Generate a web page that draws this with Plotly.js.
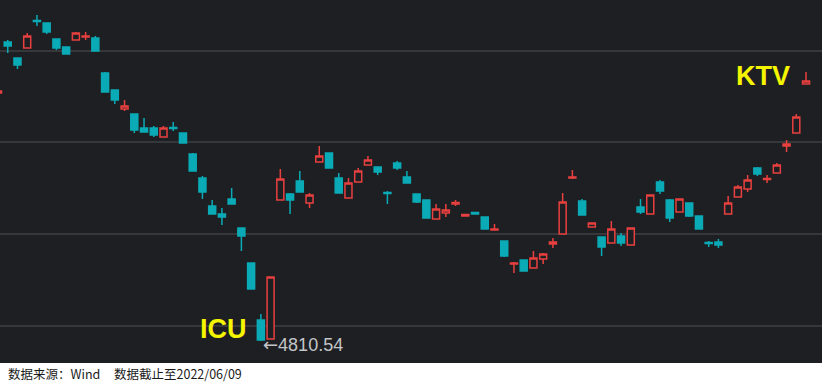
<!DOCTYPE html>
<html><head><meta charset="utf-8">
<script src="https://cdn.plot.ly/plotly-3.0.1.min.js"></script>
<style>html,body{margin:0;padding:0;background:#fff;}#chart{width:822px;height:383px;}</style>
</head><body><div id="chart"></div>
<script>
const dates = ["2022-01-28",
"2022-02-07","2022-02-08","2022-02-09","2022-02-10","2022-02-11","2022-02-14","2022-02-15","2022-02-16","2022-02-17","2022-02-18","2022-02-21","2022-02-22","2022-02-23","2022-02-24","2022-02-25","2022-02-28",
"2022-03-01","2022-03-02","2022-03-03","2022-03-04","2022-03-07","2022-03-08","2022-03-09","2022-03-10","2022-03-11","2022-03-14","2022-03-15","2022-03-16","2022-03-17","2022-03-18","2022-03-21","2022-03-22","2022-03-23","2022-03-24","2022-03-25","2022-03-28","2022-03-29","2022-03-30","2022-03-31",
"2022-04-01","2022-04-06","2022-04-07","2022-04-08","2022-04-11","2022-04-12","2022-04-13","2022-04-14","2022-04-15","2022-04-18","2022-04-19","2022-04-20","2022-04-21","2022-04-22","2022-04-25","2022-04-26","2022-04-27","2022-04-28","2022-04-29",
"2022-05-05","2022-05-06","2022-05-09","2022-05-10","2022-05-11","2022-05-12","2022-05-13","2022-05-16","2022-05-17","2022-05-18","2022-05-19","2022-05-20","2022-05-23","2022-05-24","2022-05-25","2022-05-26","2022-05-27","2022-05-30","2022-05-31",
"2022-06-01","2022-06-02","2022-06-06","2022-06-07","2022-06-08","2022-06-09"];

const open = [5306.5,5408.5,5376.5,5396.5,5451.5,5446.5,5414.5,5398.5,5412.5,5418.5,5416.5,5346.5,5312.5,5274.5,5264.5,5236.5,5236.5,5218.5,5237.5,5226.5,5184.5,5136.5,5080.5,5064.5,5094.5,5036.5,4966.5,4852.5,4814.5,5092.5,5104.5,5130.5,5086.5,5168.5,5186.5,5136.5,5096.5,5128.5,5162.5,5158.5,5107.5,5166.5,5138.5,5104.5,5092.5,5054.5,5066.5,5084.5,5060.5,5067.5,5058.5,5032.5,5010.5,4964.5,4972.5,4956.5,4974.5,5004.5,5024.5,5136.5,5090.5,5038.5,5018.5,5006.5,5020.5,5002.5,5078.5,5064.5,5128.5,5092.5,5068.5,5086.5,5060.5,5007.5,5008.5,5064.5,5098.5,5114.5,5156.5,5133.5,5146.5,5200.5,5226.5,5324.5];
const high = [5316.5,5412.5,5376.5,5426.5,5462.5,5446.5,5414.5,5398.5,5428.5,5428.5,5420.5,5348.5,5312.5,5292.5,5264.5,5256.5,5240.5,5240.5,5248.5,5226.5,5186.5,5140.5,5092.5,5076.5,5116.5,5036.5,4966.5,4864.5,4938.5,5154.5,5106.5,5150.5,5106.5,5200.5,5186.5,5146.5,5136.5,5156.5,5180.5,5158.5,5110.5,5170.5,5150.5,5104.5,5092.5,5084.5,5084.5,5092.5,5064.5,5067.5,5058.5,5044.5,5010.5,4968.5,4972.5,4990.5,4986.5,5016.5,5106.5,5152.5,5094.5,5046.5,5018.5,5050.5,5026.5,5036.5,5094.5,5102.5,5132.5,5094.5,5094.5,5086.5,5060.5,5010.5,5014.5,5100.5,5122.5,5142.5,5158.5,5142.5,5166.5,5212.5,5264.5,5348.5];
const low = [5300.5,5386.5,5354.5,5396.5,5440.5,5424.5,5392.5,5384.5,5412.5,5412.5,5390.5,5308.5,5284.5,5270.5,5226.5,5228.5,5218.5,5218.5,5230.5,5206.5,5150.5,5094.5,5064.5,5042.5,5084.5,4990.5,4914.5,4810.54,4814.5,5092.5,5064.5,5108.5,5076.5,5168.5,5156.5,5106.5,5096.5,5128.5,5162.5,5142.5,5084.5,5152.5,5126.5,5086.5,5056.5,5054.5,5058.5,5080.5,5059.5,5064.5,5034.5,5032.5,4978.5,4946.5,4950.5,4956.5,4964.5,4996.5,5024.5,5134.5,5062.5,5038.5,4980.5,5006.5,5000.5,5002.5,5064.5,5064.5,5104.5,5048.5,5068.5,5058.5,5034.5,4998.5,4996.5,5064.5,5098.5,5108.5,5140.5,5126.5,5146.5,5188.5,5226.5,5324.5];
const close = [5310.5,5400.5,5362.5,5420.5,5449.5,5428.5,5396.5,5384.5,5426.5,5420.5,5390.5,5308.5,5292.5,5280.5,5232.5,5228.5,5222.5,5236.5,5235.5,5206.5,5150.5,5108.5,5064.5,5058.5,5084.5,5020.5,4914.5,4812.5,4938.5,5134.5,5092.5,5108.5,5102.5,5180.5,5156.5,5106.5,5126.5,5150.5,5172.5,5148.5,5105.5,5156.5,5126.5,5088.5,5056.5,5074.5,5072.5,5087.5,5063.5,5064.5,5034.5,5034.5,4980.5,4966.5,4950.5,4976.5,4984.5,5008.5,5088.5,5138.5,5062.5,5046.5,4998.5,5034.5,5006.5,5036.5,5068.5,5102.5,5110.5,5056.5,5094.5,5060.5,5034.5,5005.5,5002.5,5086.5,5118.5,5132.5,5144.5,5135.5,5162.5,5204.5,5258.5,5330.5];

const lowValueText = "4810.54";
const lowDay = "2022-03-15";
const lowValue = 4810.54;

const bg = "#1e1f23";
const red = "#e8403f";
const teal = "#0aabb6";

const trace = {
  type: "candlestick",
  x: dates, open: open, high: high, low: low, close: close,
  increasing: {line: {color: red, width: 1.5}, fillcolor: bg},
  decreasing: {line: {color: teal, width: 1.5}, fillcolor: teal},
  whiskerwidth: 0,
  hoverinfo: "skip"
};

const layout = {
  width: 822, height: 383,
  margin: {l: 0, r: 0, t: 0, b: 20, pad: 0},
  paper_bgcolor: "#ffffff",
  plot_bgcolor: bg,
  showlegend: false,
  boxgap: 0.28, boxgroupgap: 0,
  xaxis: {type: "category", range: [0.2054, 84.64], showgrid: false, showticklabels: false,
          zeroline: false, showline: false, ticks: "", rangeslider: {visible: false}, fixedrange: true},
  yaxis: {range: [4766.54, 5492.54], tick0: 4840.9, dtick: 183.5, showticklabels: false, ticks: "",
          showgrid: true, gridcolor: "#36373b", gridwidth: 2, zeroline: false, showline: false, fixedrange: true},
  annotations: [
    {xref: "paper", yref: "paper", x: 0.2725, y: 0.0937, xanchor: "center", yanchor: "middle", showarrow: false,
     text: "<b>ICU</b>", font: {family: "Liberation Sans, Arial", size: 27, color: "#f5f500"}},
    {xref: "paper", yref: "paper", x: 0.928, y: 0.792, xanchor: "center", yanchor: "middle", showarrow: false,
     text: "<b>KTV</b>", font: {family: "Liberation Sans, Arial", size: 27, color: "#f5f500"}},
    {xref: "x", yref: "y", x: lowDay, y: lowValue, xanchor: "left", yanchor: "middle", xshift: 0, yshift: -3, showarrow: false,
     text: "<span style=\"font-family:DejaVu Sans\">←</span>" + lowValueText,
     font: {family: "Liberation Sans, DejaVu Sans", size: 18, color: "#c4c5c8"}},
    {xref: "paper", yref: "paper", x: 0.0073, y: -0.028, xanchor: "left", yanchor: "middle", showarrow: false,
     text: "数据来源：Wind", font: {family: "Noto Sans CJK SC", size: 12.5, color: "#1a1a1a"}},
    {xref: "paper", yref: "paper", x: 0.1365, y: -0.028, xanchor: "left", yanchor: "middle", showarrow: false,
     text: "数据截止至2022/06/09", font: {family: "Noto Sans CJK SC", size: 12.5, color: "#1a1a1a"}}
  ]
};

Plotly.newPlot("chart", [trace], layout, {displayModeBar: false, staticPlot: true});
</script></body></html>
